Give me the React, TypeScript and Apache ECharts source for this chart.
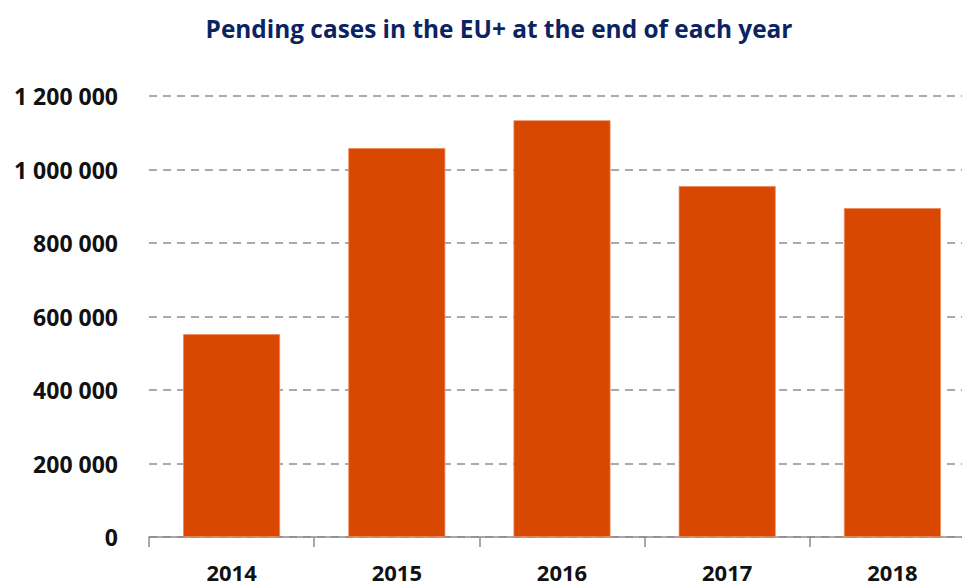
import React, { useEffect, useRef } from "react";
import * as echarts from "echarts";

const title = "Pending cases in the EU+ at the end of each year";
const categories = ["2014", "2015", "2016", "2017", "2018"];
const pendingCases = [552000, 1058000, 1134000, 955000, 895000];
const yTicks = [0, 200000, 400000, 600000, 800000, 1000000, 1200000];

const fmt = (v: number) => {
  const s = Math.round(v).toString();
  return s.replace(/\B(?=(\d{3})+(?!\d))/g, " ");
};

export default function App() {
  const ref = useRef<HTMLDivElement>(null);
  useEffect(() => {
    if (!ref.current) return;
    const chart = echarts.init(ref.current, null, { renderer: "svg" });
    chart.setOption({
      animation: false,
      backgroundColor: "#ffffff",
      title: {
        text: title,
        left: 494,
        textAlign: "center",
        top: 10,
        textStyle: {
          fontFamily: "Open Sans",
          fontWeight: "bold",
          fontSize: 24.4,
          lineHeight: 26,
          color: "#0b2461",
        },
      },
      grid: { left: 149, top: 96, bottom: 49, width: 826, containLabel: false },
      xAxis: {
        type: "category",
        data: categories,
        axisLine: { lineStyle: { color: "#8c8c8c", width: 1.5 } },
        axisTick: { show: true, length: 10, lineStyle: { color: "#8c8c8c", width: 1.5 } },
        axisLabel: {
          margin: 26,
          fontFamily: "Open Sans",
          fontWeight: "bold",
          fontSize: 22,
          lineHeight: 18,
          color: "#111111",
        },
      },
      yAxis: {
        type: "value",
        min: yTicks[0],
        max: yTicks[yTicks.length - 1],
        interval: yTicks[1] - yTicks[0],
        axisLine: { show: false },
        axisTick: { show: false },
        axisLabel: {
          margin: 31,
          fontFamily: "Open Sans",
          fontWeight: "bold",
          fontSize: 23,
          color: "#111111",
          formatter: (v: number) => fmt(v),
        },
        splitLine: {
          lineStyle: { color: "#8f8f8f", width: 1.5, type: [8, 6] },
        },
      },
      series: [
        {
          type: "bar",
          data: pendingCases,
          barWidth: 97,
          itemStyle: {
            color: "#d84800",
            borderColor: "#ea8a5c",
            borderWidth: 0.8,
          },
        },
      ],
    });
    return () => chart.dispose();
  }, []);
  return (
    <div style={{ width: 962, height: 586, position: "absolute", left: 0, top: 0, overflow: "hidden" }}>
      <div ref={ref} style={{ width: 990, height: 586 }} />
    </div>
  );
}
